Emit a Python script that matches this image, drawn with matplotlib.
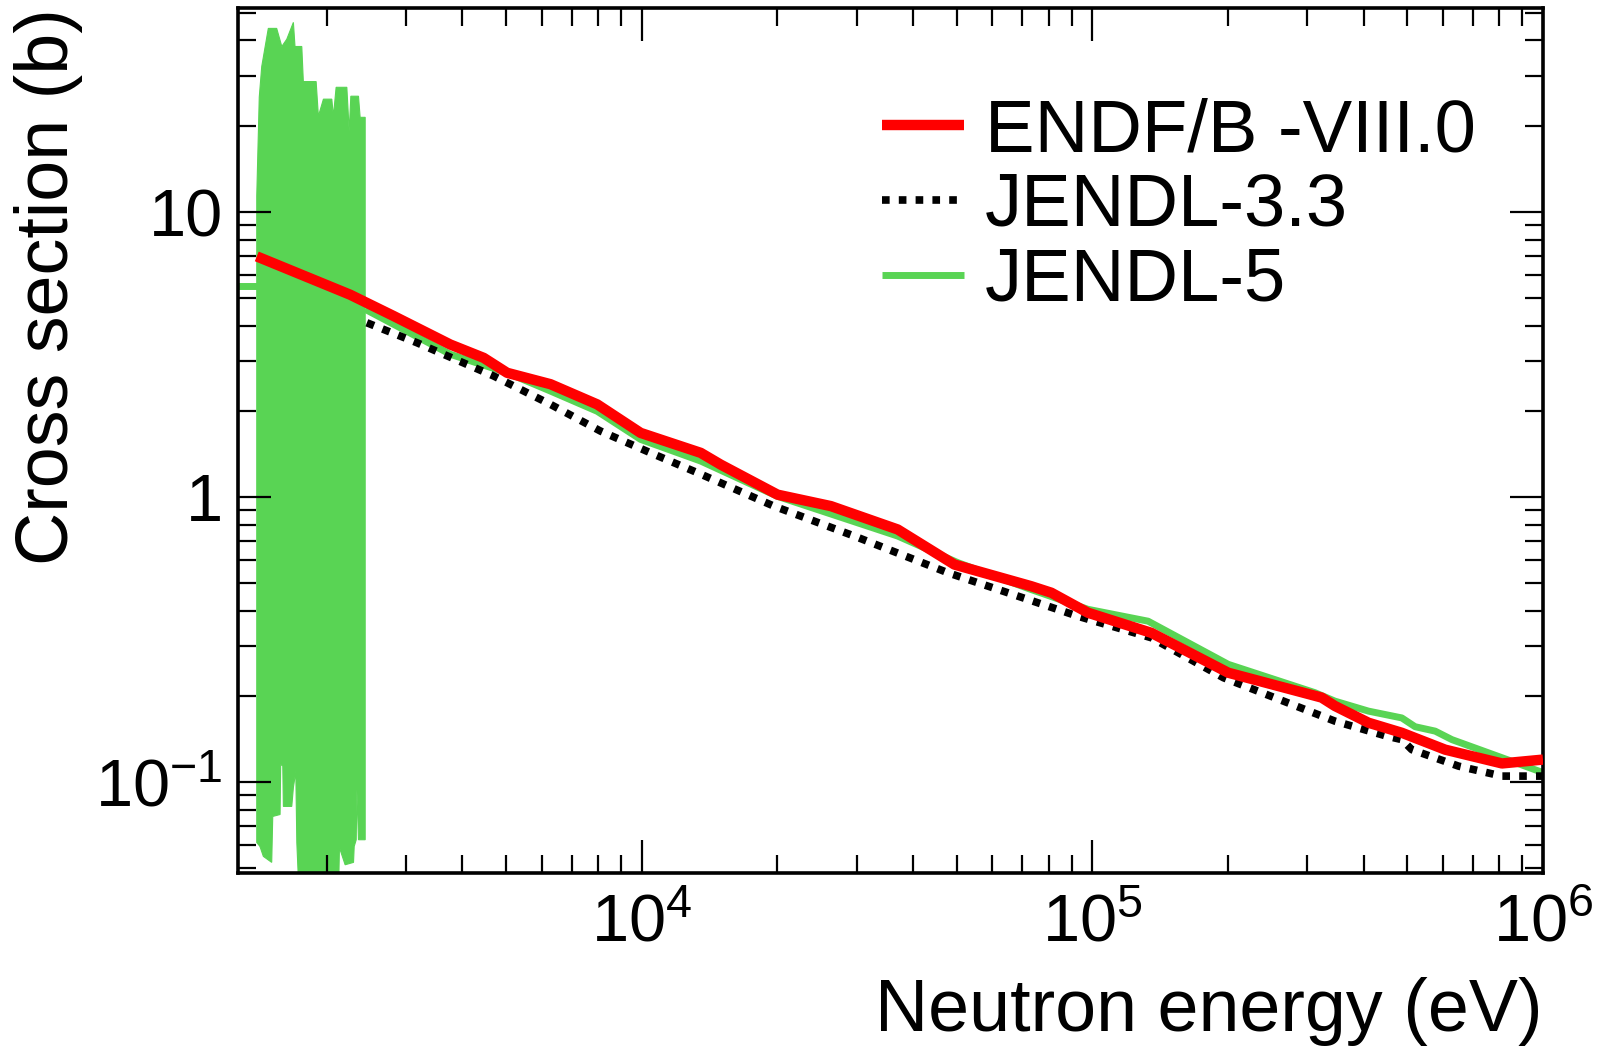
import numpy as np
import matplotlib
matplotlib.use("Agg")
import matplotlib.pyplot as plt
from matplotlib.ticker import FixedLocator, FixedFormatter, LogLocator, NullFormatter

plt.rcParams['font.family'] = ['Liberation Sans', 'DejaVu Sans']
plt.rcParams['mathtext.fontset'] = 'custom'
plt.rcParams['mathtext.rm'] = 'Liberation Sans'
plt.rcParams['mathtext.it'] = 'Liberation Sans:italic'
plt.rcParams['mathtext.bf'] = 'Liberation Sans:bold'

# ---------------- data ----------------
series_labels = ["ENDF/B -VIII.0", "JENDL-3.3", "JENDL-5"]

endf_E = [1400, 2256, 2816, 3764, 4463, 5030, 6278, 7972, 9949, 13525, 14985,
          20030, 26300, 37000, 49430, 73160, 81100, 97800, 135250, 200300,
          322800, 345400, 410000, 486100, 606700, 811000, 1.0e6]
endf_xs = [6.99, 5.13, 4.32, 3.43, 3.08, 2.73, 2.49, 2.115, 1.68, 1.43, 1.30,
           1.02, 0.93, 0.77, 0.58, 0.487, 0.462, 0.393, 0.334, 0.242,
           0.198, 0.185, 0.1616, 0.149, 0.130, 0.1163, 0.120]

jendl33_E = [2457, 3174, 4697, 6278, 8110, 10470, 13300, 19650, 29640, 47790,
             71950, 92930, 135250, 195500, 309800, 345400, 450100, 486100,
             511600, 649600, 811000, 1.0e6]
jendl33_xs = [4.09, 3.48, 2.66, 2.115, 1.704, 1.43, 1.218, 0.930, 0.730, 0.543,
              0.4375, 0.382, 0.321, 0.2324, 0.175, 0.1637, 0.145, 0.141,
              0.130, 0.1138, 0.105, 0.105]

jendl5_low_E = [1272, 1400]
jendl5_low_xs = [5.49, 5.49]

jendl5_E = [2436, 3764, 5030, 6278, 7972, 9949, 13525, 20030, 37000, 50300,
            73160, 97800, 133000, 200300, 311900, 345400, 410000, 486100,
            520200, 576500, 627900, 811000, 1.0e6]
jendl5_xs = [4.56, 3.17, 2.73, 2.355, 2.00, 1.594, 1.338, 1.006, 0.730, 0.589,
             0.474, 0.404, 0.367, 0.259, 0.206, 0.1924, 0.1775, 0.168,
             0.1565, 0.151, 0.141, 0.1218, 0.108]

# resonance region of JENDL-5 (dense oscillation): upper and lower envelopes
res_up_E = [1400, 1418, 1436, 1485, 1550, 1591, 1632, 1688, 1702, 1762, 1776,
            1896, 1918, 1968, 2054, 2071, 2100, 2218, 2245, 2264, 2354, 2374, 2436]
res_up_xs = [11.4, 25.3, 32.4, 44.1, 44.1, 38.1, 40.4, 46.3, 38.1, 38.1, 28.7,
             28.7, 21.7, 24.9, 24.9, 21.7, 27.4, 27.4, 19.2, 25.5, 25.5, 21.5, 21.5]
res_lo_E = [1400, 1423, 1448, 1511, 1519, 1577, 1582, 1599, 1604, 1674, 1688,
            1709, 1718, 1738, 2125, 2136, 2199, 2295, 2303, 2327, 2335, 2354, 2436]
res_lo_xs = [0.0614, 0.0595, 0.0549, 0.0523, 0.0758, 0.077, 0.1154, 0.114,
             0.0822, 0.0822, 0.0958, 0.109, 0.0614, 0.04, 0.04, 0.0589, 0.0513,
             0.0523, 0.0595, 0.0628, 0.0943, 0.0628, 0.0628]

x_ticks = [1e4, 1e5, 1e6]
x_ticklabels = [r"$10^{4}$", r"$10^{5}$", r"$10^{6}$"]
y_ticks = [0.1, 1, 10]
y_ticklabels = [r"$10^{-1}$", "1", "10"]

# ---------------- figure ----------------
W, H = 1604, 1048
fig = plt.figure(figsize=(W / 100, H / 100), dpi=100)
L, R, T, B = 238, 1543, 8, 873
ax = fig.add_axes([L / W, 1 - B / H, (R - L) / W, (B - T) / H])

red = '#ff0000'
green = '#59d454'

# green resonance band
ax.fill(res_up_E + res_lo_E[::-1], res_up_xs + res_lo_xs[::-1],
        color=green, lw=0.8, ec=green, zorder=1)
ax.plot(jendl5_low_E, jendl5_low_xs, color=green, lw=5, zorder=1,
        solid_capstyle='butt')
l_j5, = ax.plot(jendl5_E, jendl5_xs, color=green, lw=5, zorder=1,
                solid_capstyle='butt', label=series_labels[2])
l_j33, = ax.plot(jendl33_E, jendl33_xs, color='black', lw=5.5,
                 linestyle=(0, (1.0, 1.2)), dash_capstyle='butt', zorder=2,
                 label=series_labels[1])
l_endf, = ax.plot(endf_E, endf_xs, color=red, lw=7.5, zorder=3,
                  solid_capstyle='butt', label=series_labels[0])

ax.set_xscale('log')
ax.set_yscale('log')
ax.set_xlim(1272, 1.0e6)
ax.set_ylim(0.048, 52)

ax.xaxis.set_major_locator(FixedLocator(x_ticks))
ax.xaxis.set_major_formatter(FixedFormatter(x_ticklabels))
ax.yaxis.set_major_locator(FixedLocator(y_ticks))
ax.yaxis.set_major_formatter(FixedFormatter(y_ticklabels))
ax.xaxis.set_minor_locator(LogLocator(base=10, subs=np.arange(2, 10)))
ax.yaxis.set_minor_locator(LogLocator(base=10, subs=np.arange(2, 10)))
ax.xaxis.set_minor_formatter(NullFormatter())
ax.yaxis.set_minor_formatter(NullFormatter())

ax.tick_params(which='both', direction='in', top=True, right=True,
               width=1.6, colors='black')
ax.tick_params(which='major', length=24)
ax.tick_params(which='minor', length=13)
ax.tick_params(axis='x', which='major', labelsize=48, pad=15)
ax.tick_params(axis='y', which='major', labelsize=48, pad=11)
for s in ax.spines.values():
    s.set_linewidth(2.6)

fig.text(R / W, 1 - 1031 / H, "Neutron energy (eV)", fontsize=53,
         ha='right', va='baseline')
fig.text(14 / W, 1 - T / H, "Cross section (b)", fontsize=53,
         rotation=90, ha='left', va='top')

leg = ax.legend(handles=[l_endf, l_j33, l_j5], loc='upper left',
                bbox_to_anchor=(882 / W, 1 - 97 / H),
                bbox_transform=fig.transFigure, frameon=False,
                fontsize=53.5, borderpad=0, borderaxespad=0,
                handlelength=1.10, handletextpad=0.28, labelspacing=0.08)

fig.savefig("out.png", dpi=100)
